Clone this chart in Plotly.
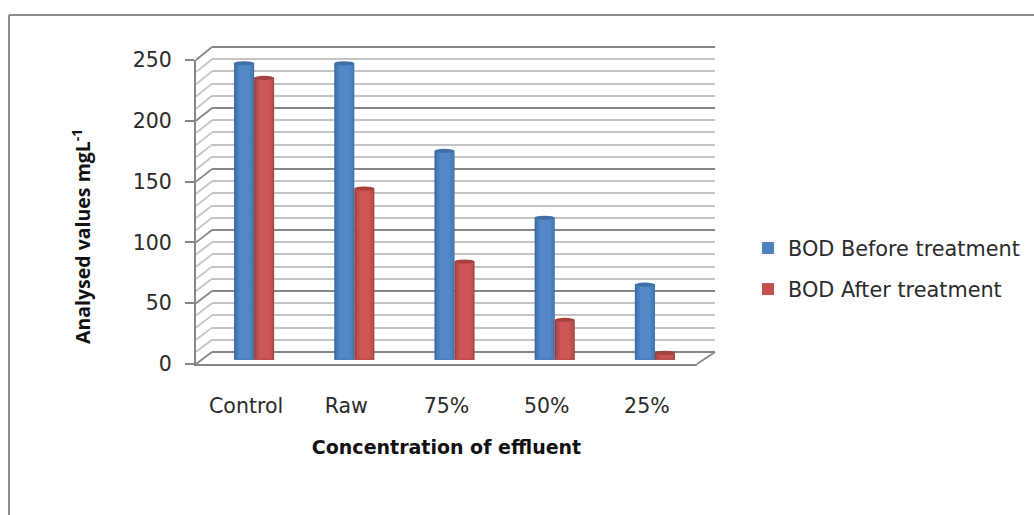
import plotly.graph_objects as go

categories = ["Control", "Raw", "75%", "50%", "25%"]
before = [244, 244, 172, 117, 62]
after = [232, 141, 81, 33, 6]
series_names = ["BOD Before treatment", "BOD After treatment"]
y_ticks = [0, 50, 100, 150, 200, 250]
minor_ticks = list(range(0, 251, 10))
x_title = "Concentration of effluent"
y_title = "Analysed values mgL<sup>-1</sup>"

W, H = 1034, 515
def fx(p): return p / W
def fy(p): return 1 - p / H

FRONT_L, FRONT_R, FRONT_T, FRONT_B = 196, 697, 60, 364
BACK_L, BACK_R, BACK_T, BACK_B = 212, 715, 47, 352
BAR_SHIFT = 8
BAR_B, BAR_T = 360, 56

MAJOR = "#868686"
MINOR = "#c4c4c4"
TEXT = "#2a2a2a"
FONT = "DejaVu Sans"
TICK_SIZE = 20.5

palette = [
    dict(shades=["#3a6899", "#4275ad", "#4b80bf", "#5288c6"], cap="#3f6fa5", base="#4a7fbc", legend="#4f81bd"),
    dict(shades=["#96403d", "#ad4845", "#c0504d", "#cc5653"], cap="#a4423f", base="#bc4e4b", legend="#c0504d"),
]
BW = 0.2

fig = go.Figure()
# keeps the back wall axes and the front axes drawn
fig.add_trace(go.Scatter(x=[0, 1], y=[0, 250], xaxis="x", yaxis="y", mode="lines",
                         line=dict(width=0), showlegend=False, hoverinfo="skip"))
fig.add_trace(go.Scatter(x=categories, y=before, xaxis="x2", yaxis="y2", mode="lines",
                         line=dict(width=0), showlegend=False, hoverinfo="skip"))

for i, (vals, name, pal) in enumerate(zip([before, after], series_names, palette)):
    start = -BW + i * BW
    insets = [(0.0, 0.0), (0.012, 0.006), (0.028, 0.014), (0.05, 0.04)]
    for (left, right), color in zip(insets, pal["shades"]):
        fig.add_trace(go.Bar(
            x=categories, y=vals, name=name, xaxis="x3", yaxis="y3",
            width=BW - left - right, offset=start + left,
            marker=dict(color=color, line=dict(width=0)),
            showlegend=False, legendgroup=name, hoverinfo="skip",
        ))
    # legend entry in the series' flat colour
    fig.add_trace(go.Bar(
        x=categories, y=[None] * len(categories), name=name, xaxis="x3", yaxis="y3",
        marker=dict(color=pal["legend"], line=dict(width=0)), legendgroup=name,
    ))

shapes = []
# outer frame of the picture
shapes.append(dict(type="line", xref="paper", yref="paper", x0=fx(9), x1=fx(9), y0=fy(15), y1=fy(515),
                   line=dict(color="#8c8c8c", width=2), layer="below"))
shapes.append(dict(type="line", xref="paper", yref="paper", x0=fx(9), x1=fx(1034), y0=fy(15), y1=fy(15),
                   line=dict(color="#8c8c8c", width=2), layer="below"))
# side wall lines that join the front axis to the back wall
px_per_unit_f = (FRONT_B - FRONT_T) / 250
px_per_unit_b = (BACK_B - BACK_T) / 250
for v in minor_ticks:
    major = v in y_ticks
    shapes.append(dict(type="line", xref="paper", yref="paper",
                       x0=fx(FRONT_L), x1=fx(BACK_L),
                       y0=fy(FRONT_B - v * px_per_unit_f), y1=fy(BACK_B - v * px_per_unit_b),
                       line=dict(color=MAJOR if major else MINOR, width=1.8), layer="below"))
# floor edge
shapes.append(dict(type="line", xref="paper", yref="paper", x0=fx(FRONT_R), x1=fx(BACK_R),
                   y0=fy(FRONT_B), y1=fy(BACK_B), line=dict(color=MAJOR, width=1.8), layer="below"))
# cylinder caps
dy = 1.7
for i, (vals, pal) in enumerate(zip([before, after], palette)):
    for c, v in enumerate(vals):
        x0, x1 = c - BW + i * BW, c + i * BW
        shapes.append(dict(type="circle", xref="x3", yref="y3", x0=x0, x1=x1, y0=-dy, y1=dy,
                           fillcolor=pal["base"], line=dict(width=0), layer="above"))
        shapes.append(dict(type="circle", xref="x3", yref="y3", x0=x0, x1=x1, y0=v - dy, y1=v + dy,
                           fillcolor=pal["cap"], line=dict(width=0), layer="above"))

PAD = 2  # the back wall range runs slightly past 0 and 250 so both end gridlines are kept
fig.update_layout(
    width=W, height=H, autosize=False,
    margin=dict(l=0, r=0, t=0, b=0, autoexpand=False),
    paper_bgcolor="white", plot_bgcolor="rgba(0,0,0,0)",
    barmode="overlay",
    font=dict(family=FONT, color=TEXT, size=TICK_SIZE),
    shapes=shapes,
    showlegend=True,
    legend=dict(x=fx(748), y=fy(228), xanchor="left", yanchor="top", bgcolor="rgba(0,0,0,0)",
                tracegroupgap=11, font=dict(size=20.8, family=FONT, color=TEXT), itemclick=False),
    annotations=[dict(text="<b>" + y_title + "</b>", xref="paper", yref="paper", x=fx(81), y=fy(237),
                      xanchor="center", yanchor="middle", textangle=-90, showarrow=False,
                      font=dict(size=19.5, family="Open Sans", color="#111111"))],
    # back wall with the gridlines
    xaxis=dict(domain=[fx(BACK_L), fx(BACK_R)], range=[0, 1], anchor="y", visible=False, automargin=False),
    yaxis=dict(domain=[fy(BACK_B + PAD * px_per_unit_b), fy(BACK_T - PAD * px_per_unit_b)], range=[-PAD, 250 + PAD],
               anchor="x", tickvals=y_ticks, showticklabels=False,
               ticks="", showgrid=True, gridcolor=MAJOR, gridwidth=1.8, zeroline=False, showline=False, automargin=False,
               minor=dict(tickvals=minor_ticks, showgrid=True, gridcolor=MINOR, gridwidth=1.8)),
    # front axes: labels, ticks and the left edge
    xaxis2=dict(domain=[fx(FRONT_L), fx(FRONT_R)], type="category", categoryorder="array", categoryarray=categories,
                range=[-0.5, 4.5], anchor="y2", showgrid=False, ticks="", ticklabelstandoff=22,
                showline=True, linecolor=MAJOR, linewidth=2, zeroline=False, automargin=False,
                tickfont=dict(size=TICK_SIZE, family=FONT, color=TEXT),
                title=dict(text="<b>" + x_title + "</b>", standoff=24,
                           font=dict(size=19, family=FONT, color="#111111"))),
    yaxis2=dict(domain=[fy(FRONT_B), fy(FRONT_T)], range=[0, 250], anchor="x2", tickvals=y_ticks,
                ticktext=[str(t) for t in y_ticks], ticks="outside", ticklen=9, tickwidth=2, tickcolor=MAJOR,
                showgrid=False, zeroline=False, showline=True, linecolor=MAJOR, linewidth=2, automargin=False,
                ticklabelstandoff=9, tickfont=dict(size=TICK_SIZE, family=FONT, color=TEXT)),
    # axes of the cylinders
    xaxis3=dict(domain=[fx(FRONT_L + BAR_SHIFT), fx(FRONT_R + BAR_SHIFT)], type="category", categoryorder="array",
                categoryarray=categories, range=[-0.5, 4.5], anchor="y3", visible=False, automargin=False),
    yaxis3=dict(domain=[fy(BAR_B), fy(BAR_T)], range=[0, 250], anchor="x3", visible=False, automargin=False),
)

fig.write_html("out.html", config={"displayModeBar": False}, post_script="document.body.style.margin='0';")
